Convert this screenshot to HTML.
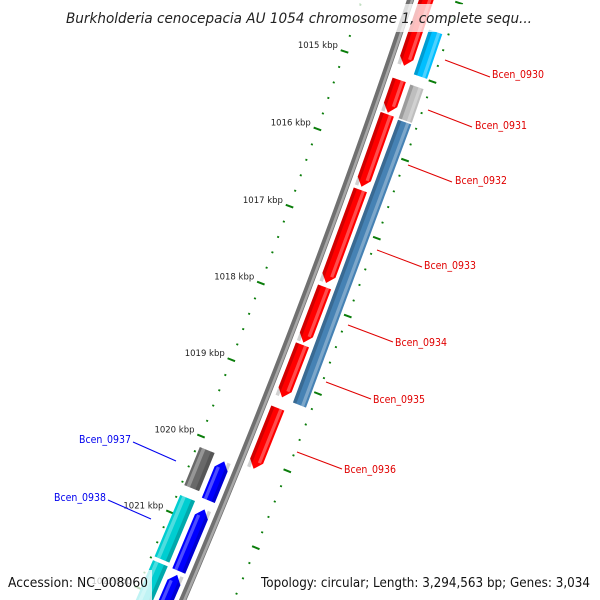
<!DOCTYPE html>
<html><head><meta charset="utf-8">
<style>
html,body{margin:0;padding:0;background:#fff;overflow:hidden;}
svg{display:block;font-family:"DejaVu Sans","Liberation Sans",sans-serif;}
</style></head>
<body>
<svg id="map" width="600" height="600" viewBox="0 0 600 600">
  <g id="ticks"></g>
  <g id="backbone"></g>
  <g id="features"></g>
  <g id="labels"></g>
  <rect x="58" y="4" width="484" height="28" fill="rgba(255,255,255,0.75)"/>
  <text x="66" y="23" textLength="466" lengthAdjust="spacingAndGlyphs" font-size="14" font-style="italic" fill="#222">Burkholderia cenocepacia AU 1054 chromosome 1, complete sequ...</text>
  <rect x="0" y="570" width="152" height="30" fill="rgba(255,255,255,0.75)"/>
  <text x="8" y="587" textLength="140" lengthAdjust="spacingAndGlyphs" font-size="13.5" fill="#111">Accession: NC_008060</text>
  <rect x="256" y="570" width="344" height="30" fill="rgba(255,255,255,0.75)"/>
  <text x="261" y="587" textLength="329" lengthAdjust="spacingAndGlyphs" font-size="13.5" fill="#111">Topology: circular; Length: 3,294,563 bp; Genes: 3,034</text>
</svg>
<script>
// data (kbp)
const geneNames = ["r1","r2","r3","r4","r5","r6","r7","o1","o2","o3","b1","b2","b3","g1","c1","c2"];
const geneStart = [1014.0,1015.11,1015.55,1016.52,1017.77,1018.52,1019.34,1014.42,1015.12,1015.57,1020.18,1020.81,1021.67,1020.13,1020.76,1021.62];
const geneEnd   = [1014.93,1015.53,1016.48,1017.72,1018.49,1019.2,1020.13,1014.99,1015.55,1019.21,1020.69,1021.62,1023.0,1020.63,1021.57,1023.0];
const geneRow   = [1,1,1,1,1,1,1,2,2,2,-1,-1,-1,-2,-2,-2];
const geneStrand= [1,1,1,1,1,1,1,0,0,0,-1,-1,-1,0,0,0];
const geneColor = ["#ff0000","#ff0000","#ff0000","#ff0000","#ff0000","#ff0000","#ff0000","#00bfff","#bebebe","#4682b4","#0000ff","#0000ff","#0000ff","#696969","#00ced1","#00ced1"];
const tickStart = 1013.0, tickEnd = 1023.4, tickStep = 0.2;

const NS="http://www.w3.org/2000/svg";
const CX=-7086, CY=-2502, R0=7903, A0=0.3310, K=0.01045;
function ang(k){return A0+(k-1015)*K;}
function pt(r,k){const a=ang(k);return [CX+r*Math.cos(a),CY+r*Math.sin(a)];}
function mk(tag,attrs,parent){const e=document.createElementNS(NS,tag);for(const a in attrs)e.setAttribute(a,attrs[a]);parent.appendChild(e);return e;}
const P=p=>p[0].toFixed(2)+","+p[1].toFixed(2);

// backbone
const bb=document.getElementById('backbone');
let d1="",d2="";
for(let k=1012.5;k<=1024;k+=0.25){d1+=(d1?"L":"M")+P(pt(R0,k));d2+=(d2?"L":"M")+P(pt(R0+1.5,k));}
let e=mk('path',{d:d1,stroke:'#707070','stroke-width':7,fill:'none'},bb);


e=mk('path',{d:d2,stroke:'#a8a8a8','stroke-width':2.5,fill:'none'},bb);



// ticks
const tg=document.getElementById('ticks');
const nT=Math.round((tickEnd-tickStart)/tickStep);
for(let i=0;i<=nT;i++){
  const k=tickStart+i*tickStep;
  const major=Math.abs(k-Math.round(k))<1e-6;
  [-46,47].forEach(off=>{
    const len=major?4:1;
    const a=pt(R0+off-len,k),b=pt(R0+off+len,k);
    const t=mk('line',{x1:a[0],y1:a[1],x2:b[0],y2:b[1],stroke:'#0a7d0a','stroke-width':major?2:1.8},tg);
    
    
  });
  if(major){
    const p=pt(R0-53,k);
    const t=mk('text',{x:p[0],y:p[1]-1,'text-anchor':'end','font-size':8.5,fill:'#222'},tg);
    t.textContent=Math.round(k)+" kbp";
    
    
  }
}

// features
const fg=document.getElementById('features');
const rowR={1:[8,22],2:[27,41],"-1":[-22,-8],"-2":[-43,-27]};
function band(k1,k2,ri,ro,strand,tipLen){
  const pts=[];
  let b1=k1,b2=k2;
  if(strand===1)b2=Math.max(k1,k2-tipLen);
  if(strand===-1)b1=Math.min(k2,k1+tipLen);
  pts.push(pt(ri,b1),pt(ri,b2));
  if(strand===1)pts.push(pt((ri+ro)/2,k2));
  pts.push(pt(ro,b2),pt(ro,b1));
  if(strand===-1)pts.push(pt((ri+ro)/2,k1));
  return pts.map(P).join(" ");
}
for(let i=0;i<geneNames.length;i++){
  const rr=rowR[geneRow[i]];
  const ri=R0+rr[0],ro=R0+rr[1],w=ro-ri;
  const g=mk('g',{},fg);
  
  
  const s=geneStrand[i], tl=0.1;
  mk('polygon',{points:band(geneStart[i],geneEnd[i],ri,ro,s,tl),fill:geneColor[i]},g);
  const innerSide=geneRow[i]>0?[ri,ri+w*0.25]:[ro-w*0.25,ro];
  mk('polygon',{points:band(geneStart[i],geneEnd[i],innerSide[0],innerSide[1],0,tl),fill:'rgba(0,0,0,0.18)'},g);
  const ls=geneRow[i]>0?[ri+w*0.62,ri+w*0.85]:[ri+w*0.15,ri+w*0.38];
  let lk1=geneStart[i],lk2=geneEnd[i];
  if(s===1)lk2-=tl*0.9; if(s===-1)lk1+=tl*0.9;
  mk('polygon',{points:band(lk1,lk2,ls[0],ls[1],0,tl),fill:'rgba(255,255,255,0.3)'},g);
}

// labels
const labelText=["Bcen_0930","Bcen_0931","Bcen_0932","Bcen_0933","Bcen_0934","Bcen_0935","Bcen_0936","Bcen_0937","Bcen_0938"];
const lg=document.getElementById('labels');
const L=[[445,60,490,77,492,78,'#e00000','start'],[428,110,472,127,475,129,'#e00000','start'],[408,165,452,182,455,184,'#e00000','start'],
[377,250,422,267,424,269,'#e00000','start'],[348,325,393,342,395,346,'#e00000','start'],[326,382,371,399,373,403,'#e00000','start'],
[297,452,342,469,344,473,'#e00000','start'],[176,461,133,442,131,443,'#0000ee','end'],[151,519,108,500,106,501,'#0000ee','end']];
L.forEach((l,i)=>{
  const ln=mk('line',{x1:l[0],y1:l[1],x2:l[2],y2:l[3],stroke:l[6],'stroke-width':1},lg);
  
  
  const tx=l[7]==='end'?l[4]-52:l[4];
  const t=mk('text',{x:tx,y:l[5],'font-size':10.5,fill:l[6],textLength:52,lengthAdjust:'spacingAndGlyphs'},lg);
  t.textContent=labelText[i];
  
  
});
</script>
</body></html>
